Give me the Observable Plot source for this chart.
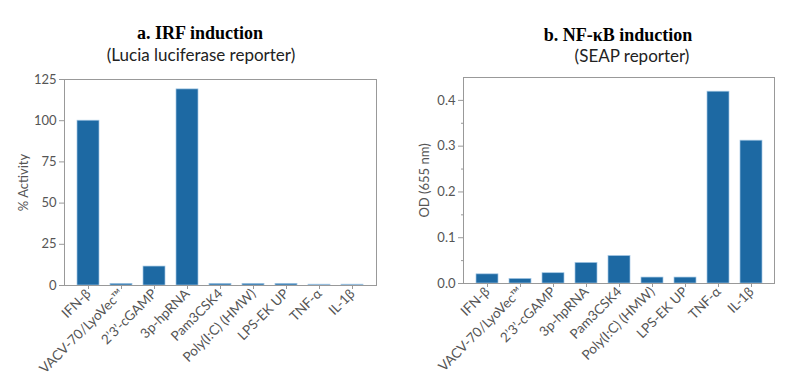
<!DOCTYPE html>
<html><head><meta charset="utf-8">
<script src="https://cdn.jsdelivr.net/npm/d3@7"></script>
<script src="https://cdn.jsdelivr.net/npm/@observablehq/plot@0.6"></script>
<style>
body{margin:0;width:800px;height:383px;position:relative;overflow:hidden;background:#fff;font-family:Lato,sans-serif}
.t{position:absolute;text-align:center;white-space:nowrap;transform:translateX(-50%)}
.h{font-family:"Liberation Serif","Times New Roman",serif;font-weight:bold;font-size:18px;line-height:18px;color:#000}
.s{font-family:Lato,sans-serif;font-size:17px;line-height:17px;color:#222}
.p{position:absolute;top:65px}
</style></head><body>
<div class="t h" style="left:200px;top:24px">a. IRF induction</div>
<div class="t s" style="left:201px;top:46px">(Lucia luciferase reporter)</div>
<div class="t h" style="left:618px;top:26px">b. NF-κB induction</div>
<div class="t s" style="left:632px;top:47px">(SEAP reporter)</div>
<div class="p" id="left" style="left:0px"></div>
<div class="p" id="right" style="left:400px"></div>
<script>
const categories = ["IFN-β","VACV-70/LyoVec™","2’3’-cGAMP","3p-hpRNA","Pam3CSK4","Poly(I:C) (HMW)","LPS-EK UP","TNF-α","IL-1β"];
const irfValues = [100, 1, 11.5, 119, 1, 1, 1, 0.5, 0.5];
const nfkbValues = [0.020, 0.010, 0.0225, 0.045, 0.060, 0.013, 0.013, 0.419, 0.312];
const irfTicks = [0, 25, 50, 75, 100, 125];
const nfkbTicks = [0, 0.1, 0.2, 0.3, 0.4];
const nfkbMinorTicks = [0.05, 0.15, 0.25, 0.35];

function panel(values, o) {
  const data = categories.map((c, i) => ({c, v: values[i]}));
  const marks = [
    Plot.barY(data, {x: "c", y: "v", fill: "#1d69a3", stroke: "#a3c7e4", strokeWidth: 0.7}),
    Plot.axisX({tickRotate: -45, tickSize: 4, tickPadding: 2, label: null, stroke: "#999", fill: "#555", fontSize: 13.5}),
    Plot.axisY({ticks: o.ticks, tickSize: 5, tickPadding: 3, tickFormat: o.format, stroke: "#999", fill: "#555",
      label: o.label, labelAnchor: "center", labelArrow: "none", labelOffset: o.labelOffset}),
    Plot.frame({stroke: "#999"})
  ];
  if (o.minor) marks.push(Plot.axisY({ticks: o.minor, tickSize: 2, tickFormat: () => "", stroke: "#999", label: null}));
  return Plot.plot({
    width: 400, height: 318,
    marginLeft: o.ml, marginRight: o.mr, marginTop: o.mt, marginBottom: o.mb,
    x: {domain: categories, padding: 0.34},
    y: {domain: o.domain},
    style: {fontFamily: "Lato, sans-serif", fontSize: "13px", color: "#555", background: "transparent"},
    marks
  });
}

document.getElementById("left").append(panel(irfValues, {
  ticks: irfTicks, format: d3.format("d"), label: "% Activity", labelOffset: 46,
  domain: [0, 125], ml: 64, mr: 24, mt: 14, mb: 98
}));
document.getElementById("right").append(panel(nfkbValues, {
  ticks: nfkbTicks, minor: nfkbMinorTicks, format: d3.format(".1f"), label: "OD (655 nm)", labelOffset: 44,
  domain: [0, 0.45], ml: 63, mr: 26, mt: 12, mb: 100
}));
</script>
</body></html>
